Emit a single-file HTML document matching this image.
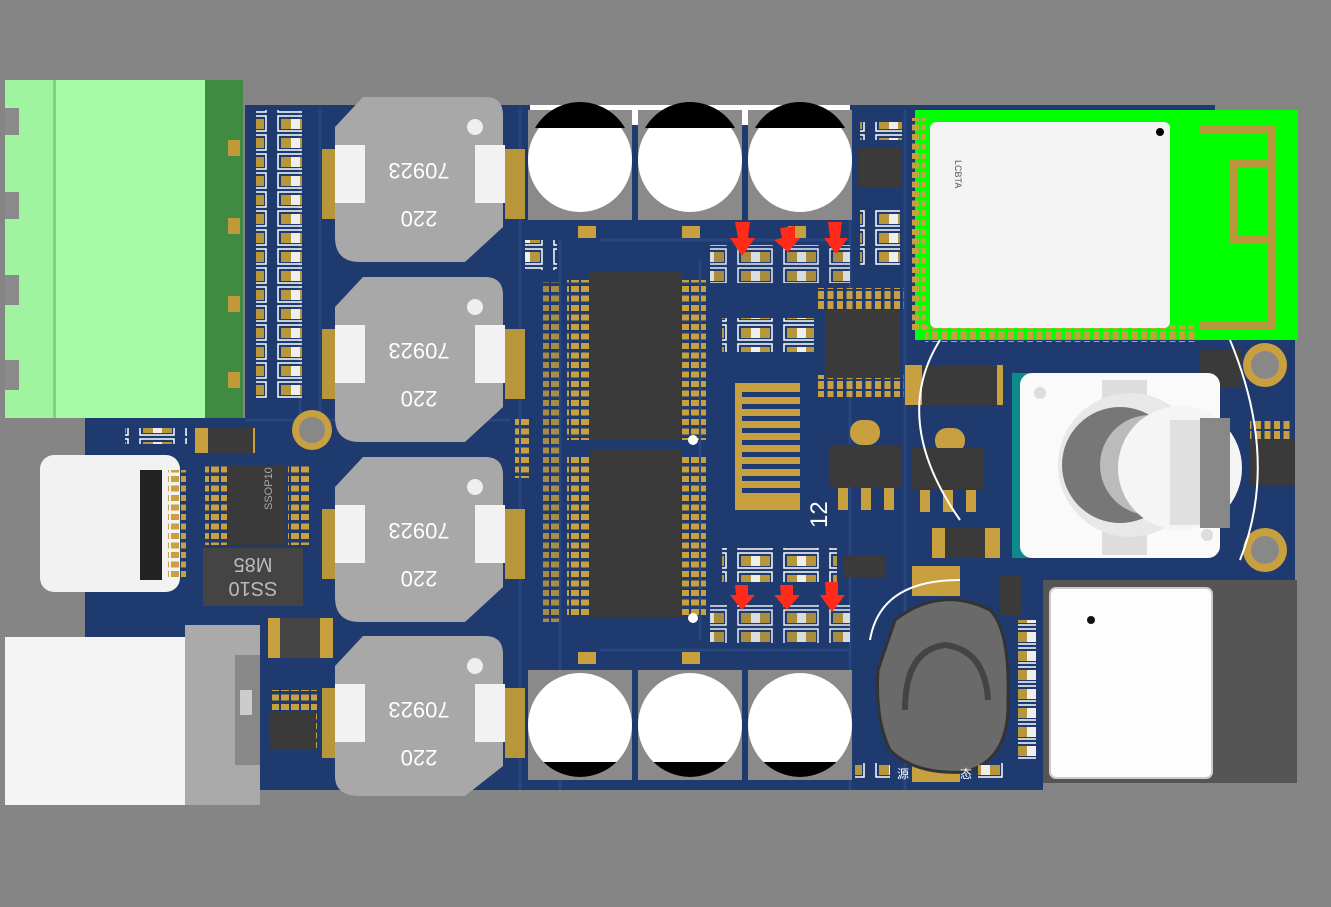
<!DOCTYPE html>
<html><head><meta charset="utf-8"><style>
html,body{margin:0;padding:0;background:#858585;width:1331px;height:907px;overflow:hidden}
svg{display:block}
text{font-family:"Liberation Sans","Noto Sans CJK SC",sans-serif}
</style></head><body>
<svg width="1331" height="907" viewBox="0 0 1331 907" xmlns="http://www.w3.org/2000/svg">
<defs>
<pattern id="res" width="46" height="19" patternUnits="userSpaceOnUse">
<rect x="2" y="2" width="34" height="15" fill="none" stroke="#fff" stroke-width="1.5"/>
<rect x="5" y="5" width="10" height="10" fill="#b8963a"/><rect x="15" y="5" width="9" height="10" fill="#eee"/><rect x="24" y="5" width="10" height="10" fill="#b8963a"/>
</pattern>
<pattern id="pins" width="9.5" height="10" patternUnits="userSpaceOnUse"><rect x="1" y="1" width="6" height="8" fill="#c8a040"/></pattern>
<pattern id="pinsv" width="10" height="9.5" patternUnits="userSpaceOnUse"><rect x="1" y="1" width="8" height="6" fill="#c8a040"/></pattern>
<clipPath id="c1"><circle cx="580" cy="725" r="52"/><circle cx="690" cy="725" r="52"/><circle cx="800" cy="725" r="52"/></clipPath>
</defs>
<rect width="1331" height="907" fill="#858585"/>
<!-- board -->
<path d="M85 418 H245 V105 H1215 V110 H1298 V340 H1295 V783 H1043 V790 H245 V805 H85 Z" fill="#1e3a6e"/>
<rect x="85" y="418" width="160" height="387" fill="#1e3a6e"/>
<g stroke="#27477f" stroke-width="3" fill="none">
<path d="M300 110 V420 M320 110 V420 M520 110 V790 M560 240 V790 M700 260 V640 M850 110 V790 M905 110 V790"/>
<path d="M245 420 H510 M600 650 H850 M600 240 H850"/>
</g>
<!-- green terminal -->
<rect x="5" y="80" width="200" height="338" fill="#a6fba6"/>
<rect x="5" y="80" width="50" height="338" fill="#a0f4a0"/>
<rect x="53" y="80" width="3" height="338" fill="#7fd07f"/>
<rect x="205" y="80" width="38" height="338" fill="#418a41"/>
<g fill="#8a8a8a"><rect x="5" y="108" width="14" height="27"/><rect x="5" y="192" width="14" height="27"/><rect x="5" y="275" width="14" height="30"/><rect x="5" y="360" width="14" height="30"/></g>
<g fill="#c09a3a"><rect x="228" y="140" width="12" height="16"/><rect x="228" y="218" width="12" height="16"/><rect x="228" y="296" width="12" height="16"/><rect x="228" y="372" width="12" height="16"/></g>
<rect x="256" y="110" width="46" height="290" fill="url(#res)"/>
<!-- inductors -->
<g>
<g transform="translate(335,97)"><rect x="-13" y="52" width="20" height="70" fill="#b8963a"/><rect x="170" y="52" width="20" height="70" fill="#b8963a"/><path d="M0 30 L28 0 H150 Q168 0 168 18 V130 L130 165 H25 Q0 165 0 140 Z" fill="#a8a8a8"/><rect x="0" y="48" width="30" height="58" fill="#f2f2f2"/><rect x="140" y="48" width="30" height="58" fill="#f2f2f2"/><circle cx="140" cy="30" r="8" fill="#eee"/><text x="84" y="78" transform="rotate(180 84 72)" font-size="22" fill="#fff" text-anchor="middle">70923</text><text x="84" y="126" transform="rotate(180 84 120)" font-size="22" fill="#fff" text-anchor="middle">220</text></g>
<g transform="translate(335,277)"><rect x="-13" y="52" width="20" height="70" fill="#b8963a"/><rect x="170" y="52" width="20" height="70" fill="#b8963a"/><path d="M0 30 L28 0 H150 Q168 0 168 18 V130 L130 165 H25 Q0 165 0 140 Z" fill="#a8a8a8"/><rect x="0" y="48" width="30" height="58" fill="#f2f2f2"/><rect x="140" y="48" width="30" height="58" fill="#f2f2f2"/><circle cx="140" cy="30" r="8" fill="#eee"/><text x="84" y="78" transform="rotate(180 84 72)" font-size="22" fill="#fff" text-anchor="middle">70923</text><text x="84" y="126" transform="rotate(180 84 120)" font-size="22" fill="#fff" text-anchor="middle">220</text></g>
<g transform="translate(335,457)"><rect x="-13" y="52" width="20" height="70" fill="#b8963a"/><rect x="170" y="52" width="20" height="70" fill="#b8963a"/><path d="M0 30 L28 0 H150 Q168 0 168 18 V130 L130 165 H25 Q0 165 0 140 Z" fill="#a8a8a8"/><rect x="0" y="48" width="30" height="58" fill="#f2f2f2"/><rect x="140" y="48" width="30" height="58" fill="#f2f2f2"/><circle cx="140" cy="30" r="8" fill="#eee"/><text x="84" y="78" transform="rotate(180 84 72)" font-size="22" fill="#fff" text-anchor="middle">70923</text><text x="84" y="126" transform="rotate(180 84 120)" font-size="22" fill="#fff" text-anchor="middle">220</text></g>
<g transform="translate(335,636)"><rect x="-13" y="52" width="20" height="70" fill="#b8963a"/><rect x="170" y="52" width="20" height="70" fill="#b8963a"/><path d="M0 30 L28 0 H150 Q168 0 168 18 V130 L130 160 H25 Q0 160 0 140 Z" fill="#a8a8a8"/><rect x="0" y="48" width="30" height="58" fill="#f2f2f2"/><rect x="140" y="48" width="30" height="58" fill="#f2f2f2"/><circle cx="140" cy="30" r="8" fill="#eee"/><text x="84" y="78" transform="rotate(180 84 72)" font-size="22" fill="#fff" text-anchor="middle">70923</text><text x="84" y="126" transform="rotate(180 84 120)" font-size="22" fill="#fff" text-anchor="middle">220</text></g>
</g>
<!-- capacitors top -->
<rect x="530" y="105" width="320" height="20" fill="#fff"/>
<g>
<rect x="528" y="110" width="104" height="110" fill="#8a8a8a"/><circle cx="580" cy="160" r="52" fill="#fff"/><path d="M535 128 A52 52 0 0 1 625 128 Z" fill="#000"/>
<rect x="638" y="110" width="104" height="110" fill="#8a8a8a"/><circle cx="690" cy="160" r="52" fill="#fff"/><path d="M645 128 A52 52 0 0 1 735 128 Z" fill="#000"/>
<rect x="748" y="110" width="104" height="110" fill="#8a8a8a"/><circle cx="800" cy="160" r="52" fill="#fff"/><path d="M755 128 A52 52 0 0 1 845 128 Z" fill="#000"/>
</g>
<!-- capacitors bottom -->
<g>
<rect x="528" y="670" width="104" height="110" fill="#8a8a8a"/><circle cx="580" cy="725" r="52" fill="#fff"/>
<rect x="638" y="670" width="104" height="110" fill="#8a8a8a"/><circle cx="690" cy="725" r="52" fill="#fff"/>
<rect x="748" y="670" width="104" height="110" fill="#8a8a8a"/><circle cx="800" cy="725" r="52" fill="#fff"/>
<rect x="528" y="762" width="324" height="28" fill="#000" clip-path="url(#c1)"/>
<rect x="578" y="652" width="18" height="12" fill="#c8a040"/><rect x="682" y="652" width="18" height="12" fill="#c8a040"/><rect x="578" y="226" width="18" height="12" fill="#c8a040"/><rect x="682" y="226" width="18" height="12" fill="#c8a040"/><rect x="788" y="226" width="18" height="12" fill="#c8a040"/>
</g>
<!-- main ICs -->
<rect x="567" y="280" width="24" height="160" fill="url(#pinsv)"/>
<rect x="682" y="280" width="24" height="160" fill="url(#pinsv)"/>
<rect x="567" y="456" width="24" height="160" fill="url(#pinsv)"/>
<rect x="682" y="456" width="24" height="160" fill="url(#pinsv)"/>
<rect x="590" y="272" width="92" height="168" fill="#3a3a3a"/>
<rect x="590" y="450" width="92" height="168" fill="#3a3a3a"/>
<circle cx="693" cy="440" r="5" fill="#fff"/><circle cx="693" cy="618" r="5" fill="#fff"/>
<rect x="543" y="282" width="16" height="340" fill="url(#pinsv)" opacity="0.8"/>
<rect x="515" y="418" width="16" height="60" fill="url(#pinsv)"/>
<rect x="525" y="240" width="32" height="30" fill="url(#res)"/>
<g fill="#c8a040"><rect x="735" y="383" width="65" height="127"/></g>
<g fill="#1e3a6e"><rect x="742" y="392" width="58" height="5"/><rect x="742" y="404" width="58" height="5"/><rect x="742" y="416" width="58" height="5"/><rect x="742" y="428" width="58" height="5"/><rect x="742" y="440" width="58" height="5"/><rect x="742" y="452" width="58" height="5"/><rect x="742" y="464" width="58" height="5"/><rect x="742" y="476" width="58" height="5"/><rect x="742" y="488" width="58" height="5"/></g>
<text x="805" y="530" font-size="24" fill="#fff" transform="rotate(-90 815 518)">12</text>
<rect x="710" y="245" width="140" height="38" fill="url(#res)" opacity="0.9"/>
<rect x="710" y="605" width="140" height="38" fill="url(#res)" opacity="0.9"/>
<rect x="722" y="318" width="92" height="34" fill="url(#res)"/>
<rect x="722" y="548" width="115" height="34" fill="url(#res)"/>
<g fill="#ff2a1a">
<path d="M735 222 L750 222 L748 238 L755 238 L742 256 L730 238 L738 238 Z"/>
<path d="M780 228 L795 226 L795 238 L800 238 L788 252 L774 240 L782 238 Z"/>
<path d="M828 222 L842 222 L840 238 L848 238 L836 254 L824 238 L830 238 Z"/>
<path d="M735 585 L748 585 L748 595 L755 595 L742 610 L730 595 L736 595 Z"/>
<path d="M780 585 L793 585 L793 595 L800 595 L787 610 L774 595 L781 595 Z"/>
<path d="M825 582 L838 582 L838 595 L845 595 L832 612 L820 595 L826 595 Z"/>
</g>
<rect x="818" y="288" width="86" height="22" fill="url(#pins)"/>
<rect x="818" y="375" width="86" height="22" fill="url(#pins)"/>
<rect x="825" y="310" width="75" height="68" fill="#3a3a3a"/>
<rect x="858" y="148" width="44" height="40" fill="#3a3a3a"/>
<rect x="860" y="122" width="42" height="18" fill="url(#res)"/>
<rect x="860" y="210" width="40" height="55" fill="url(#res)"/>
<rect x="850" y="420" width="30" height="25" fill="#c8a040" rx="12"/>
<rect x="830" y="445" width="72" height="42" fill="#3a3a3a"/>
<rect x="838" y="488" width="10" height="22" fill="#c8a040"/><rect x="861" y="488" width="10" height="22" fill="#c8a040"/><rect x="884" y="488" width="10" height="22" fill="#c8a040"/>
<rect x="935" y="428" width="30" height="25" fill="#c8a040" rx="12"/>
<rect x="912" y="448" width="72" height="42" fill="#3a3a3a"/>
<rect x="920" y="490" width="10" height="22" fill="#c8a040"/><rect x="943" y="490" width="10" height="22" fill="#c8a040"/><rect x="966" y="490" width="10" height="22" fill="#c8a040"/>
<rect x="905" y="365" width="98" height="40" fill="#c8a040"/><rect x="922" y="365" width="75" height="40" fill="#3a3a3a"/>
<rect x="932" y="528" width="68" height="30" fill="#c8a040"/><rect x="945" y="528" width="40" height="30" fill="#3a3a3a"/>
<rect x="843" y="555" width="42" height="22" fill="#3a3a3a"/>
<!-- BT module -->
<rect x="915" y="110" width="383" height="230" fill="#00ff00"/>
<rect x="1200" y="125" width="75" height="8" fill="#b8963a"/><rect x="1268" y="125" width="8" height="205" fill="#b8963a"/><rect x="1230" y="160" width="45" height="8" fill="#b8963a"/><rect x="1230" y="160" width="8" height="80" fill="#b8963a"/><rect x="1230" y="235" width="45" height="8" fill="#b8963a"/><rect x="1200" y="322" width="75" height="8" fill="#b8963a"/>
<rect x="925" y="325" width="270" height="17" fill="url(#pins)"/>
<rect x="912" y="118" width="14" height="215" fill="url(#pinsv)"/>
<rect x="930" y="122" width="240" height="206" rx="6" fill="#f4f4f4"/>
<circle cx="1160" cy="132" r="4" fill="#000"/>
<text x="955" y="160" font-size="9" fill="#555" transform="rotate(90 955 160)">LCBTA</text>
<rect x="1200" y="350" width="42" height="38" fill="#3a3a3a"/>
<circle cx="1265" cy="365" r="22" fill="#c8a040"/><circle cx="1265" cy="365" r="14" fill="#888"/>
<circle cx="1265" cy="550" r="22" fill="#c8a040"/><circle cx="1265" cy="550" r="14" fill="#888"/>
<rect x="1250" y="440" width="45" height="45" fill="#3a3a3a"/>
<rect x="1250" y="420" width="40" height="20" fill="url(#pins)"/>
<!-- rotary encoder -->
<rect x="1012" y="373" width="18" height="185" fill="#0d8a8a"/>
<rect x="1020" y="373" width="200" height="185" rx="12" fill="#fafafa"/>
<rect x="1102" y="380" width="45" height="175" fill="#ddd"/>
<circle cx="1130" cy="465" r="72" fill="#e8e8e8"/>
<circle cx="1120" cy="465" r="58" fill="#777"/>
<circle cx="1150" cy="465" r="50" fill="#bbb"/>
<circle cx="1180" cy="468" r="62" fill="#f5f5f5"/>
<rect x="1200" y="418" width="30" height="110" fill="#888"/>
<rect x="1170" y="420" width="30" height="105" fill="#e0e0e0"/>
<circle cx="1040" cy="393" r="6" fill="#ddd"/><circle cx="1207" cy="535" r="6" fill="#ddd"/>
<!-- switch box -->
<rect x="1043" y="580" width="254" height="203" fill="#555"/>
<rect x="1050" y="588" width="162" height="190" rx="6" fill="#fdfdfd" stroke="#ccc" stroke-width="2"/>
<circle cx="1091" cy="620" r="4" fill="#111"/>
<rect x="1018" y="620" width="18" height="140" fill="url(#res)"/>
<rect x="1000" y="575" width="22" height="40" fill="#3a3a3a"/>
<!-- knob -->
<rect x="912" y="566" width="48" height="30" fill="#c8a040"/>
<rect x="912" y="760" width="48" height="22" fill="#c8a040"/>
<path d="M895 620 Q940 585 990 610 Q1010 630 1008 700 Q1010 760 965 772 Q915 775 890 750 Q875 720 878 670 Z" fill="#6a6a6a" stroke="#333" stroke-width="3"/>
<path d="M905 710 Q905 650 945 645 Q985 650 988 700" fill="none" stroke="#444" stroke-width="6"/>
<text x="897" y="778" font-size="12" fill="#fff">源</text><text x="960" y="778" font-size="12" fill="#fff">态</text>
<rect x="855" y="763" width="35" height="16" fill="url(#res)"/><rect x="978" y="763" width="35" height="16" fill="url(#res)"/>
<g fill="none" stroke="#fff" stroke-width="2">
<path d="M940 340 Q890 420 960 520"/>
<path d="M870 640 Q880 580 960 580"/>
<path d="M1230 340 Q1280 460 1240 560"/>
</g>
<!-- left-bottom area -->
<rect x="40" y="455" width="140" height="137" rx="14" fill="#f2f2f2"/>
<rect x="140" y="470" width="22" height="110" fill="#222"/>
<rect x="168" y="470" width="18" height="110" fill="url(#pinsv)"/>
<rect x="228" y="465" width="58" height="80" fill="#3a3a3a"/>
<text x="252" y="520" font-size="11" fill="#aaa" transform="rotate(-90 257 505)">SSOP10</text>
<rect x="205" y="465" width="22" height="80" fill="url(#pinsv)"/>
<rect x="288" y="465" width="22" height="80" fill="url(#pinsv)"/>
<rect x="203" y="548" width="100" height="58" fill="#444"/>
<text x="253" y="572" font-size="20" fill="#bbb" text-anchor="middle" transform="rotate(180 253 565)">M85</text>
<text x="253" y="596" font-size="20" fill="#bbb" text-anchor="middle" transform="rotate(180 253 589)">SS10</text>
<rect x="195" y="428" width="60" height="25" fill="#c8a040"/><rect x="208" y="428" width="45" height="25" fill="#3a3a3a"/>
<rect x="125" y="428" width="62" height="16" fill="url(#res)"/>
<circle cx="312" cy="430" r="20" fill="#c8a040"/><circle cx="312" cy="430" r="13" fill="#888"/>
<rect x="268" y="618" width="65" height="40" fill="#c8a040"/><rect x="280" y="618" width="40" height="40" fill="#444"/>
<rect x="272" y="690" width="45" height="60" fill="url(#pinsv)"/>
<rect x="270" y="712" width="46" height="38" fill="#3a3a3a"/>
<!-- USB-B -->
<rect x="5" y="637" width="240" height="168" fill="#f4f4f4"/>
<rect x="185" y="625" width="75" height="180" fill="#aaa"/>
<rect x="235" y="655" width="25" height="110" fill="#888"/>
<rect x="240" y="690" width="12" height="25" fill="#ccc"/>
</svg>
</body></html>
